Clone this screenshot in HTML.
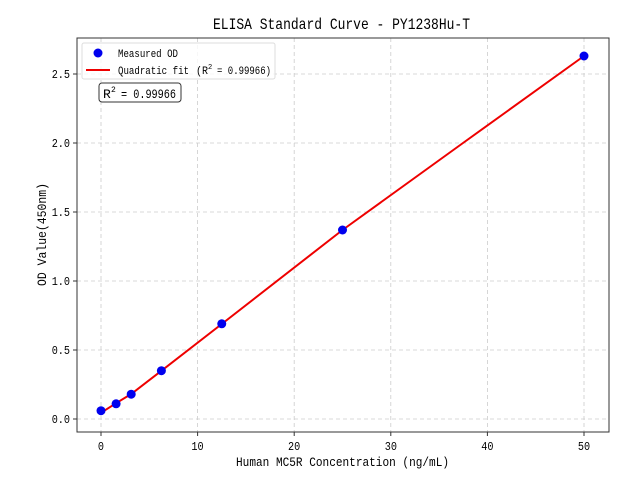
<!DOCTYPE html>
<html><head><meta charset="utf-8"><style>body{margin:0;background:#fff}svg{display:block}text{font-family:"Liberation Mono",monospace;fill:#000}</style></head><body>
<svg width="640" height="480" xmlns="http://www.w3.org/2000/svg">
<rect width="640" height="480" fill="#fff"/>
<g stroke="#ccc" stroke-dasharray="4,3" stroke-width="0.8">
<line x1="101" y1="38" x2="101" y2="432"/><line x1="197.6" y1="38" x2="197.6" y2="432"/><line x1="294.2" y1="38" x2="294.2" y2="432"/><line x1="390.8" y1="38" x2="390.8" y2="432"/><line x1="487.4" y1="38" x2="487.4" y2="432"/><line x1="584" y1="38" x2="584" y2="432"/>
<line x1="77" y1="419" x2="609" y2="419"/><line x1="77" y1="350" x2="609" y2="350"/><line x1="77" y1="281" x2="609" y2="281"/><line x1="77" y1="212" x2="609" y2="212"/><line x1="77" y1="143" x2="609" y2="143"/><line x1="77" y1="74" x2="609" y2="74"/>
</g>
<polyline fill="none" stroke="#e00" stroke-width="2" points="101,412.8 116.1,403.2 131.2,394 161.4,370.8 221.75,324 342.5,230 463,143 584,56"/>
<g fill="#00e">
<circle cx="101" cy="410.7" r="4.5"/><circle cx="116.1" cy="403.8" r="4.5"/><circle cx="131.2" cy="394.2" r="4.5"/><circle cx="161.4" cy="370.7" r="4.5"/><circle cx="221.75" cy="323.8" r="4.5"/><circle cx="342.5" cy="230" r="4.5"/><circle cx="584" cy="56" r="4.5"/>
</g>
<rect x="77" y="38" width="532" height="394" fill="none" stroke="#333" stroke-width="1"/>
<g stroke="#333"><line x1="101" y1="432" x2="101" y2="436"/><line x1="197.6" y1="432" x2="197.6" y2="436"/><line x1="294.2" y1="432" x2="294.2" y2="436"/><line x1="390.8" y1="432" x2="390.8" y2="436"/><line x1="487.4" y1="432" x2="487.4" y2="436"/><line x1="584" y1="432" x2="584" y2="436"/>
<line x1="73" y1="419" x2="77" y2="419"/><line x1="73" y1="350" x2="77" y2="350"/><line x1="73" y1="281" x2="77" y2="281"/><line x1="73" y1="212" x2="77" y2="212"/><line x1="73" y1="143" x2="77" y2="143"/><line x1="73" y1="74" x2="77" y2="74"/></g>
<g font-size="12" text-anchor="middle" transform="scale(0.85,1)"><text x="118.8" y="450">0</text><text x="232.4" y="450">10</text><text x="346.1" y="450">20</text><text x="459.8" y="450">30</text><text x="573.4" y="450">40</text><text x="687.1" y="450">50</text></g>
<g font-size="12" text-anchor="end" transform="scale(0.85,1)"><text x="82.4" y="423">0.0</text><text x="82.4" y="354">0.5</text><text x="82.4" y="285">1.0</text><text x="82.4" y="216">1.5</text><text x="82.4" y="147">2.0</text><text x="82.4" y="78">2.5</text></g>
<text x="236" y="466" font-size="13" textLength="213" lengthAdjust="spacingAndGlyphs">Human MC5R Concentration (ng/mL)</text>
<text transform="translate(46,286) rotate(-90)" font-size="13" textLength="103" lengthAdjust="spacingAndGlyphs">OD Value(450nm)</text>
<text x="213" y="29" font-size="16" textLength="257" lengthAdjust="spacingAndGlyphs">ELISA Standard Curve - PY1238Hu-T</text>
<rect x="82" y="43" width="193" height="36" rx="2" fill="#fff" fill-opacity="0.8" stroke="#ddd"/>
<circle cx="98" cy="53" r="4.5" fill="#00e"/>
<line x1="86" y1="70" x2="110" y2="70" stroke="#e00" stroke-width="2"/>
<text x="118" y="57" font-size="11" textLength="60" lengthAdjust="spacingAndGlyphs">Measured OD</text>
<text x="118" y="74" font-size="11" textLength="71" lengthAdjust="spacingAndGlyphs">Quadratic fit</text>
<text x="196" y="74" font-size="11" textLength="12" lengthAdjust="spacingAndGlyphs">(R</text>
<text x="208" y="69" font-size="7">2</text>
<text x="217" y="74" font-size="11" textLength="54" lengthAdjust="spacingAndGlyphs">= 0.99966)</text>
<rect x="99" y="83" width="82" height="19" rx="3" fill="#fff" stroke="#333"/>
<text x="103" y="98" font-size="13">R</text>
<text x="111" y="92" font-size="8">2</text>
<text x="121" y="98" font-size="13" textLength="55" lengthAdjust="spacingAndGlyphs">= 0.99966</text>
</svg>
</body></html>
